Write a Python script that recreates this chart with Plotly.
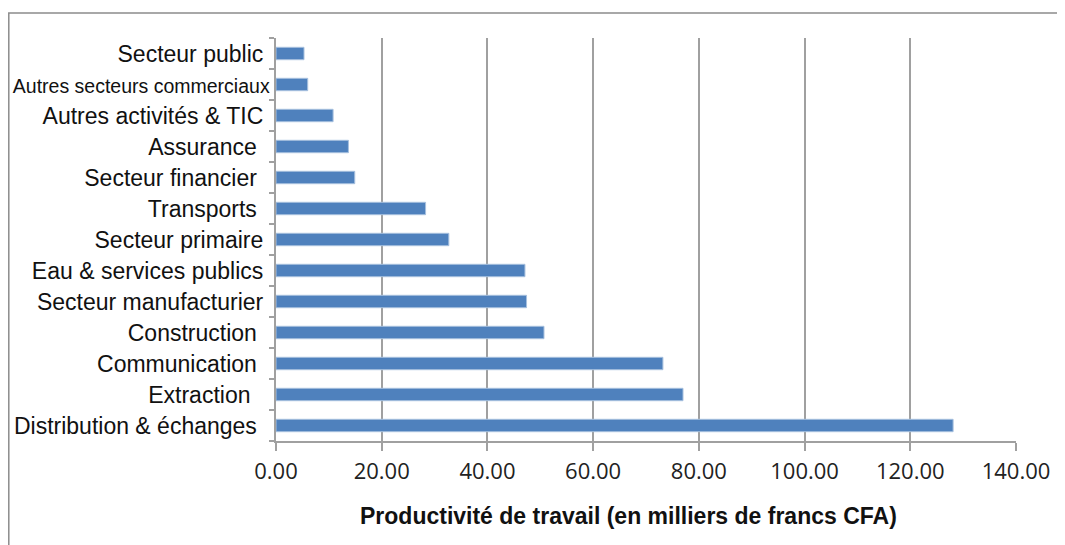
import plotly.graph_objects as go

# -----------------------------------------------------------------------
#                             DATA
# -----------------------------------------------------------------------

sectors = [
    "Distribution & échanges",
    "Extraction",
    "Communication",
    "Construction",
    "Secteur manufacturier",
    "Eau & services publics",
    "Secteur primaire",
    "Transports",
    "Secteur financier",
    "Assurance",
    "Autres activités & TIC",
    "Autres secteurs commerciaux",
    "Secteur public",
]

productivity = [128.1, 77.0, 73.2, 50.7, 47.4, 47.1, 32.7, 28.3, 14.9, 13.7, 10.8, 6.0, 5.3]

x_ticks = [0, 20, 40, 60, 80, 100, 120, 140]
x_tick_labels = ["0.00", "20.00", "40.00", "60.00", "80.00", "100.00", "120.00", "140.00"]

# -----------------------------------------------------------------------
#                             GRAPH
# -----------------------------------------------------------------------

# the labels in the original are not all flush with the axis: pad with nbsp
pad = {
    "Distribution & échanges": 2,
    "Extraction": 3,
    "Communication": 2,
    "Construction": 2,
    "Secteur manufacturier": 1,
    "Eau & services publics": 1,
    "Secteur primaire": 1,
    "Transports": 2,
    "Secteur financier": 2,
    "Assurance": 2,
    "Autres activités & TIC": 1,
    "Autres secteurs commerciaux": 0,
    "Secteur public": 1,
}

tick_text = []
for name in sectors:
    label = name + "\u00a0" * pad[name]
    if name == "Autres secteurs commerciaux":
        label = "<span style='font-size:19.5px'>" + label + "</span>"
    tick_text.append(label)

fig = go.Figure()

fig.add_trace(go.Bar(
    x=productivity,
    y=sectors,
    orientation='h',
    marker=dict(color='#4F81BD', line=dict(color='#A7C0DE', width=1)),
))

# page body has an 8px margin, so the figure sits at (8, 8) in the window
OFF = 8
W, H = 1065 - OFF, 545 - OFF
L, R, T, B = 268, 49, 30, 104
pw, ph = W - L - R, H - T - B

def px_x(v):
    return (v - OFF - L) / pw

def px_y(v):
    return (H - B - (v - OFF)) / ph

fig.update_layout(
    width=W,
    height=H,
    margin=dict(l=L, r=R, t=T, b=B, autoexpand=False),
    plot_bgcolor='white',
    paper_bgcolor='white',
    showlegend=False,
    bargap=0.6,
    font=dict(family='Liberation Sans, Arial', color='#111'),
    xaxis=dict(
        range=[0, 140],
        automargin=False,
        tickvals=x_ticks,
        ticktext=x_tick_labels,
        showgrid=True,
        gridcolor='#A0A0A0',
        gridwidth=1.5,
        zeroline=False,
        showline=True,
        linecolor='#A0A0A0',
        linewidth=1.5,
        ticks='outside',
        ticklen=8,
        tickcolor='#A0A0A0',
        tickwidth=1.5,
        tickfont=dict(family='Open Sans, Noto Sans', size=22, color='#222'),
        ticklabelstandoff=2,
    ),
    yaxis=dict(
        type='category',
        automargin=False,
        tickvals=sectors,
        ticktext=tick_text,
        tickson='boundaries',
        showgrid=False,
        showline=True,
        linecolor='#A0A0A0',
        linewidth=1.5,
        ticks='outside',
        ticklen=5,
        tickcolor='#A0A0A0',
        tickwidth=1.5,
        tickfont=dict(family='Liberation Sans, Arial', size=23, color='#111'),
        ticklabelstandoff=0,
    ),
    annotations=[dict(
        text='<b>Productivité de travail (en milliers de francs CFA)</b>',
        xref='paper', yref='paper',
        x=px_x(628), y=px_y(516),
        xanchor='center', yanchor='middle',
        showarrow=False,
        font=dict(family='Liberation Sans, Arial', size=23, color='#111'),
    )],
    shapes=[dict(
        type='path',
        xref='paper', yref='paper',
        path='M {} {} L {} {} L {} {}'.format(px_x(8.8), px_y(560), px_x(8.8), px_y(13), px_x(1080), px_y(13)),
        line=dict(color='#8C8C8C', width=1.5),
    )],
)

fig.write_html("out.html")
